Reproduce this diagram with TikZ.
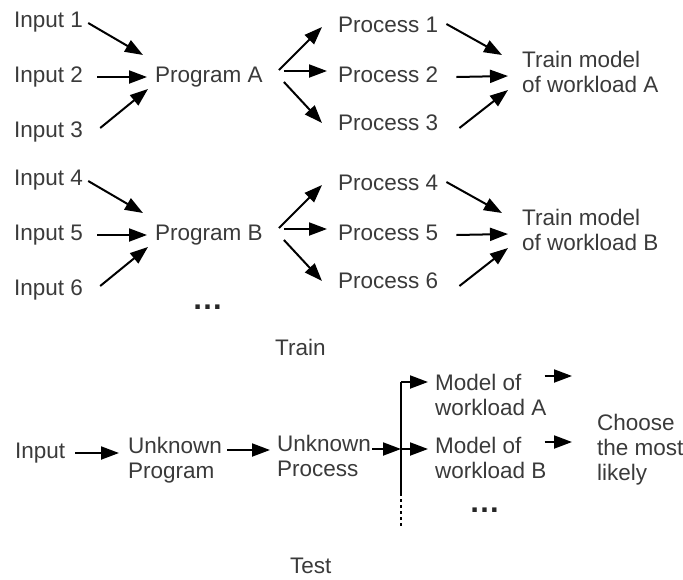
\documentclass[tikz,border=0pt]{standalone}
\usepackage{fontspec}
\setmainfont{Liberation Sans}
\usetikzlibrary{arrows.meta}
\definecolor{txtcol}{RGB}{58,58,58}
\begin{document}
\begin{tikzpicture}[x=1pt,y=-1pt,
  txt/.style={inner sep=0pt, text=txtcol, font=\fontsize{22.5}{25}\selectfont, anchor=base west},
  ml/.style={txt, align=left, anchor=north west},
  dotsty/.style={inner sep=0pt, text=black!85, font=\fontsize{31}{31}\selectfont\bfseries, anchor=base west},
  arr/.style={line width=2pt, -{Triangle[length=18pt,width=13pt]}},
  ln/.style={line width=2pt}]
\useasboundingbox (0,0) rectangle (683,579);
% ---------- Block A ----------
\node[txt] (in1) at (14,27) {Input 1};
\node[txt] (in2) at (14,82) {Input 2};
\node[txt] (in3) at (14,137) {Input 3};
\node[txt] (pa) at (155,82) {Program A};
\node[txt] (p1) at (338,32) {Process 1};
\node[txt] (p2) at (338,82) {Process 2};
\node[txt] (p3) at (338,130) {Process 3};
\node[ml] (ta) at (522,51) {Train model\\of workload A};
\draw[arr] ([shift={(5,-4)}]in1.base east) -- ([shift={(-12,-27)}]pa.base west);
\draw[arr] ([shift={(14,-5)}]in2.base east) -- ([shift={(-8,-5)}]pa.base west);
\draw[arr] ([shift={(17,-9)}]in3.base east) -- ([shift={(-7,7)}]pa.base west);
\draw[arr] ([shift={(16,-12)}]pa.base east) -- ([shift={(-16,-5)}]p1.base west);
\draw[arr] ([shift={(21,-11)}]pa.base east) -- ([shift={(-11,-11)}]p2.base west);
\draw[arr] ([shift={(21,0)}]pa.base east) -- ([shift={(-16,-7)}]p3.base west);
\draw[arr] ([shift={(8,-8)}]p1.base east) -- ([shift={(-20,4)}]ta.north west);
\draw[arr] ([shift={(18,-5)}]p2.base east) -- ([shift={(-14,25)}]ta.north west);
\draw[arr] ([shift={(21,-2)}]p3.base east) -- ([shift={(-14,39)}]ta.north west);
% ---------- Block B ----------
\node[txt] (in4) at (14,185) {Input 4};
\node[txt] (in5) at (14,240) {Input 5};
\node[txt] (in6) at (14,295) {Input 6};
\node[txt] (pb) at (155,240) {Program B};
\node[txt] (p4) at (338,190) {Process 4};
\node[txt] (p5) at (338,240) {Process 5};
\node[txt] (p6) at (338,288) {Process 6};
\node[ml] (tb) at (522,209) {Train model\\of workload B};
\draw[arr] ([shift={(5,-4)}]in4.base east) -- ([shift={(-12,-27)}]pb.base west);
\draw[arr] ([shift={(14,-5)}]in5.base east) -- ([shift={(-8,-5)}]pb.base west);
\draw[arr] ([shift={(17,-9)}]in6.base east) -- ([shift={(-7,7)}]pb.base west);
\draw[arr] ([shift={(16,-12)}]pb.base east) -- ([shift={(-16,-5)}]p4.base west);
\draw[arr] ([shift={(21,-11)}]pb.base east) -- ([shift={(-11,-11)}]p5.base west);
\draw[arr] ([shift={(21,0)}]pb.base east) -- ([shift={(-16,-7)}]p6.base west);
\draw[arr] ([shift={(8,-8)}]p4.base east) -- ([shift={(-20,4)}]tb.north west);
\draw[arr] ([shift={(18,-5)}]p5.base east) -- ([shift={(-14,25)}]tb.north west);
\draw[arr] ([shift={(21,-2)}]p6.base east) -- ([shift={(-14,39)}]tb.north west);
\node[dotsty] (dots1) at (192,309) {…};
\node[txt] (train) at (275,355) {Train};
% ---------- Test ----------
\node[txt] (inT) at (15,458) {Input};
\node[ml] (up) at (128,437) {Unknown\\Program};
\node[ml] (uproc) at (277,435) {Unknown\\Process};
\node[ml] (ma) at (435,374) {Model of\\workload A};
\node[ml] (mb) at (435,437) {Model of\\workload B};
\node[ml] (ch) at (597,414) {Choose\\the most\\likely};
\node[dotsty] (dots2) at (469,512) {…};
\node[txt] (test) at (290,573) {Test};
\coordinate (vtop) at (401,382);
\coordinate (vmid) at (401,449);
\coordinate (vbot) at (401,493);
\coordinate (vend) at (401,528);
\coordinate (fa) at (572,376);
\coordinate (fb) at (572,442);
\draw[arr] ([shift={(10,-5)}]inT.base east) -- ([shift={(-9,16)}]up.north west);
\draw[arr] ([shift={(5,13)}]up.north east) -- ([shift={(-7,15)}]uproc.north west);
\draw[arr] ([shift={(1,14)}]uproc.north east) -- (vmid);
\draw[ln] (vtop) -- (vbot);
\draw[ln, dash pattern=on 3pt off 3pt] (vbot) -- (vend);
\draw[arr] (vtop) -- ([shift={(-7,8)}]ma.north west);
\draw[arr] (vmid) -- ([shift={(-7,12)}]mb.north west);
\draw[arr] ([shift={(-2,2)}]ma.north east) -- (fa);
\draw[arr] ([shift={(-2,5)}]mb.north east) -- (fb);
\end{tikzpicture}
\end{document}
